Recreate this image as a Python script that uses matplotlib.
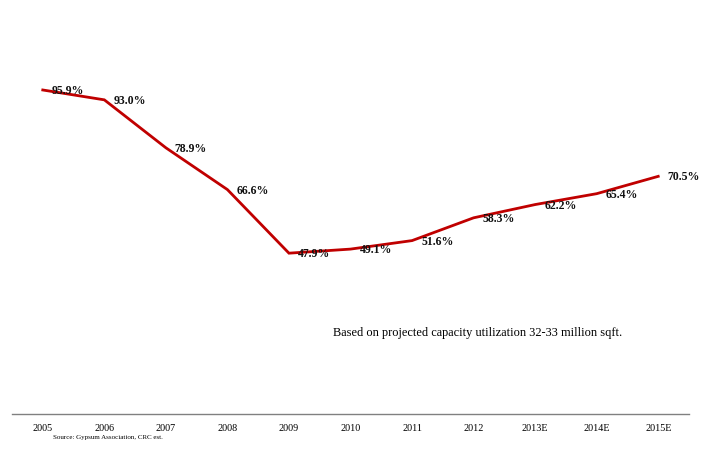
import matplotlib
matplotlib.use("Agg")
import matplotlib.pyplot as plt

years = ["2005", "2006", "2007", "2008", "2009", "2010", "2011", "2012", "2013E", "2014E", "2015E"]
utilization = [95.9, 93.0, 78.9, 66.6, 47.9, 49.1, 51.6, 58.3, 62.2, 65.4, 70.5]

plt.rcParams["font.family"] = ["Liberation Serif", "DejaVu Serif"]

fig = plt.figure(figsize=(7.06, 4.5), dpi=100)
ax = fig.add_axes([12 / 706, 1 - 414 / 450, 677 / 706, 374 / 450])

x = list(range(len(years)))
ax.plot(x, utilization, color="#C00000", linewidth=2, solid_joinstyle="miter")

for xi, v in zip(x, utilization):
    ax.annotate(f"{v:.1f}%", (xi, v), xytext=(9, -1), textcoords="offset pixels",
                ha="left", va="center", fontsize=8.5, fontweight="bold", color="#111111")

ax.set_xlim(-0.5, len(years) - 0.5)
ax.set_ylim(0.6, 110.6)
ax.set_xticks(x)
ax.set_xticklabels(years, fontsize=7.3)
ax.tick_params(axis="x", length=0, pad=7)
ax.set_yticks([])
for side in ["top", "right", "left"]:
    ax.spines[side].set_visible(False)
ax.spines["bottom"].set_color("#808080")
ax.spines["bottom"].set_linewidth(1)

fig.text(333 / 706, 1 - 333 / 450, "Based on projected capacity utilization 32-33 million sqft.",
         fontsize=8.9, ha="left", va="center")
fig.text(53 / 706, 1 - 437 / 450, "Source: Gypsum Association, CRC est.",
         fontsize=5, ha="left", va="center")

fig.savefig("out.png", dpi=100)
